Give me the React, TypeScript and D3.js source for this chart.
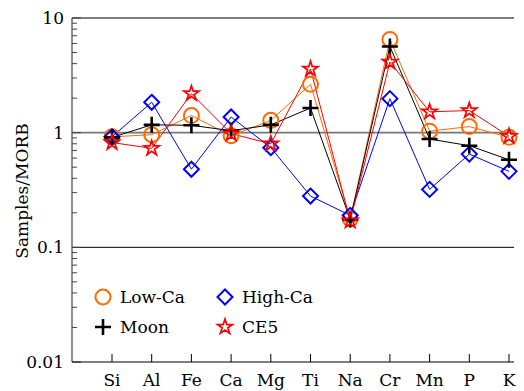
import React, { useEffect, useRef } from "react";
import * as d3 from "d3";

// element order along the x axis
const elements = ["Si", "Al", "Fe", "Ca", "Mg", "Ti", "Na", "Cr", "Mn", "P", "K"];

// normalised to MORB
const lowCa = [0.92, 0.96, 1.41, 0.94, 1.28, 2.64, 0.177, 6.5, 1.03, 1.13, 0.91];
const highCa = [0.92, 1.84, 0.48, 1.37, 0.74, 0.28, 0.19, 1.98, 0.32, 0.65, 0.46];
const moon = [0.91, 1.17, 1.16, 1.04, 1.17, 1.64, 0.175, 5.65, 0.88, 0.77, 0.58];
const ce5 = [0.82, 0.73, 2.19, 0.98, 0.8, 3.59, 0.17, 4.13, 1.52, 1.56, 0.93];

const yTicks = [10, 1, 0.1, 0.01];
const yTickLabels = ["10", "1", "0.1", "0.01"];

const series = [
  { name: "Low-Ca", values: lowCa, color: "#ff6a00", shape: "circle" },
  { name: "High-Ca", values: highCa, color: "#0000ff", shape: "diamond" },
  { name: "Moon", values: moon, color: "#000000", shape: "plus" },
  { name: "CE5", values: ce5, color: "#ff0000", shape: "star" },
];

// Liberation Serif did not resolve here, DejaVu Serif does
const FONT = "DejaVu Serif";

const drawMarker = (g, shape, color, x, y) => {
  if (shape === "circle") {
    g.append("circle")
      .attr("cx", x)
      .attr("cy", y)
      .attr("r", 7.5)
      .attr("fill", "none")
      .attr("stroke", color)
      .attr("stroke-width", 2);
  } else if (shape === "diamond") {
    const s = 7.5;
    g.append("path")
      .attr("d", `M${x},${y - s}L${x + s},${y}L${x},${y + s}L${x - s},${y}Z`)
      .attr("fill", "none")
      .attr("stroke", color)
      .attr("stroke-width", 2);
  } else if (shape === "plus") {
    const s = 8;
    g.append("path")
      .attr("d", `M${x - s},${y}H${x + s}M${x},${y - s}V${y + s}`)
      .attr("stroke", color)
      .attr("stroke-width", 2.6);
  } else {
    const star = d3.symbol().type(d3.symbolStar).size(70);
    g.append("path")
      .attr("d", star())
      .attr("transform", `translate(${x},${y})`)
      .attr("fill", "none")
      .attr("stroke", color)
      .attr("stroke-width", 1.7);
  }
};

const App = () => {
  const svgRef = useRef(null);

  useEffect(() => {
    const left = 72;
    const right = 514;
    const top = 18;
    const bottom = 362;

    const svg = d3.select(svgRef.current);
    svg.selectAll("*").remove();

    const x = d3
      .scalePoint()
      .domain(elements)
      .range([112, 509]);
    const y = d3.scaleLog().domain([0.01, 10]).range([bottom, top]);

    // horizontal reference lines
    svg.append("line")
      .attr("x1", left).attr("x2", right)
      .attr("y1", y(10)).attr("y2", y(10))
      .attr("stroke", "#000").attr("stroke-width", 1);
    svg.append("line")
      .attr("x1", left).attr("x2", right)
      .attr("y1", y(1)).attr("y2", y(1))
      .attr("stroke", "#777").attr("stroke-width", 1.6);
    svg.append("line")
      .attr("x1", left).attr("x2", right)
      .attr("y1", y(0.1)).attr("y2", y(0.1))
      .attr("stroke", "#000").attr("stroke-width", 1);

    // left axis
    svg.append("line")
      .attr("x1", left).attr("x2", left)
      .attr("y1", top).attr("y2", bottom)
      .attr("stroke", "#444").attr("stroke-width", 1.2);
    const minor = [];
    [0.01, 0.1, 1].forEach((d) => {
      for (let k = 2; k <= 9; k++) minor.push(d * k);
    });
    svg.selectAll(".minor")
      .data(minor)
      .enter()
      .append("line")
      .attr("x1", left).attr("x2", left + 5)
      .attr("y1", (d) => y(d)).attr("y2", (d) => y(d))
      .attr("stroke", "#444").attr("stroke-width", 1);
    svg.selectAll(".major")
      .data(yTicks)
      .enter()
      .append("line")
      .attr("x1", left).attr("x2", left + 9)
      .attr("y1", (d) => y(d)).attr("y2", (d) => y(d))
      .attr("stroke", "#444").attr("stroke-width", 1);
    svg.selectAll(".ylab")
      .data(yTicks)
      .enter()
      .append("text")
      .attr("x", left - 8)
      .attr("y", (d) => y(d) + 6)
      .attr("text-anchor", "end")
      .attr("font-family", FONT)
      .attr("font-size", 17)
      .text((d, i) => yTickLabels[i]);

    // bottom axis
    svg.append("line")
      .attr("x1", left).attr("x2", right)
      .attr("y1", bottom).attr("y2", bottom)
      .attr("stroke", "#000").attr("stroke-width", 1.2);
    svg.selectAll(".xtick")
      .data(elements)
      .enter()
      .append("line")
      .attr("x1", (d) => x(d)).attr("x2", (d) => x(d))
      .attr("y1", bottom).attr("y2", bottom - 8)
      .attr("stroke", "#000").attr("stroke-width", 1);
    svg.selectAll(".xlab")
      .data(elements)
      .enter()
      .append("text")
      .attr("x", (d) => x(d))
      .attr("y", 386)
      .attr("text-anchor", "middle")
      .attr("font-family", FONT)
      .attr("font-size", 17)
      .text((d) => d);

    svg.append("text")
      .attr("transform", `translate(28,191) rotate(-90)`)
      .attr("text-anchor", "middle")
      .attr("font-family", FONT)
      .attr("font-size", 17)
      .text("Samples/MORB");

    // series lines and markers
    const line = d3
      .line()
      .x((d, i) => x(elements[i]))
      .y((d) => y(d));
    series.forEach((s) => {
      svg.append("path")
        .attr("d", line(s.values))
        .attr("fill", "none")
        .attr("stroke", s.color)
        .attr("stroke-width", 1);
    });
    series.forEach((s) => {
      const g = svg.append("g");
      s.values.forEach((v, i) => drawMarker(g, s.shape, s.color, x(elements[i]), y(v)));
    });

    // legend
    const legendPos = [
      [103, 297],
      [225, 297],
      [103, 327],
      [225, 327],
    ];
    series.forEach((s, i) => {
      const [lx, ly] = legendPos[i];
      const g = svg.append("g");
      drawMarker(g, s.shape, s.color, lx, ly);
      g.append("text")
        .attr("x", lx + 17)
        .attr("y", ly + 6)
        .attr("font-family", FONT)
        .attr("font-size", 17)
        .text(s.name);
    });
  }, []);

  return (
    <svg
      ref={svgRef}
      width={524}
      height={391}
      style={{ position: "absolute", left: 0, top: 0 }}
    ></svg>
  );
};

export default App;
